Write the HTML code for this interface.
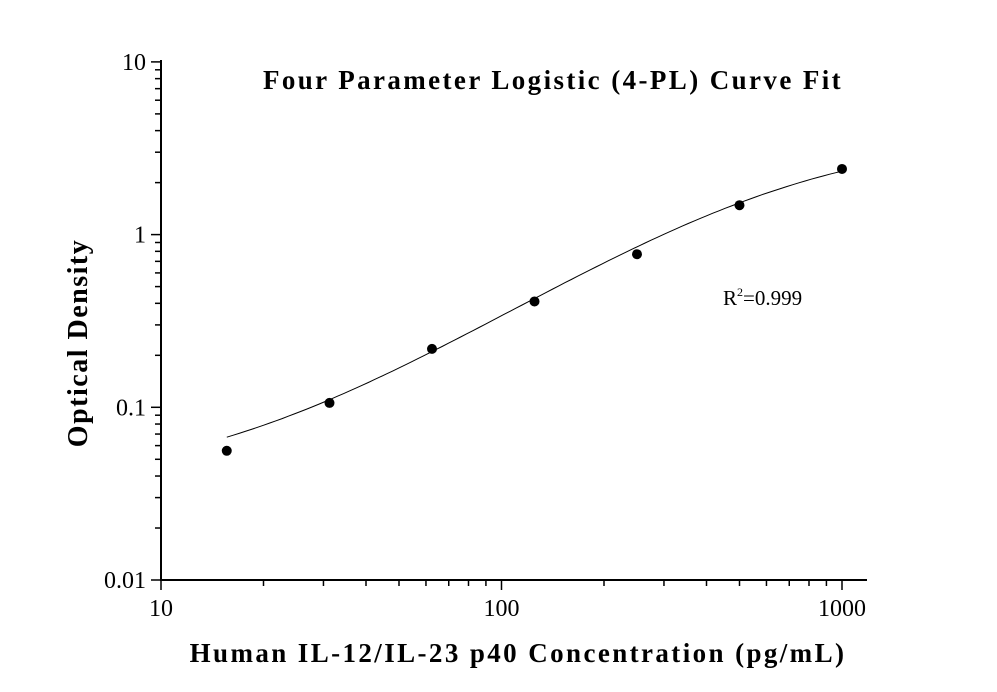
<!DOCTYPE html>
<html><head><meta charset="utf-8"><style>
body{margin:0;background:#fff}
svg{display:block;font-family:"Liberation Serif",serif}
</style></head><body>
<svg width="997" height="692" viewBox="0 0 997 692">
<g id="axes"></g>
<g id="marks"></g>
<text x="553" y="89" text-anchor="middle" font-size="27" font-weight="bold" letter-spacing="2.4">Four Parameter Logistic (4-PL) Curve Fit</text>
<text x="723" y="305" font-size="21">R<tspan dy="-9" font-size="12">2</tspan><tspan dy="9">=0.999</tspan></text>
<text transform="translate(87,343) rotate(-90)" text-anchor="middle" font-size="28" font-weight="bold" letter-spacing="1.5">Optical Density</text>
<text x="518" y="662" text-anchor="middle" font-size="27" font-weight="bold" letter-spacing="2.4">Human IL-12/IL-23 p40 Concentration (pg/mL)</text>
<script>
const concentrations=[15.6,31.25,62.5,125,250,500,1000];
const odValues=[0.056,0.106,0.218,0.41,0.77,1.48,2.4];
const fitParams=[0.035,3.8,700,1.25]; // A, D, C, B
const xTicks=[10,100,1000];
const xTickLabels=["10","100","1000"];
const yTicks=[0.01,0.1,1,10];
const yTickLabels=["0.01","0.1","1","10"];
const NS="http://www.w3.org/2000/svg";
const X0=161,XD=340.5,Y0=580,YD=172.7;
function xs(v){return X0+(Math.log10(v)-1)*XD;}
function ys(v){return Y0-(Math.log10(v)+2)*YD;}
function mk(t,a,p){const e=document.createElementNS(NS,t);for(const k in a)e.setAttribute(k,a[k]);p.appendChild(e);return e;}
const ax=document.getElementById('axes'),mg=document.getElementById('marks');
let l=mk('line',{x1:X0,y1:Y0,x2:867,y2:Y0,stroke:'#000','stroke-width':2},ax);


l=mk('line',{x1:X0,y1:Y0+1,x2:X0,y2:60,stroke:'#000','stroke-width':2},ax);


for(let d=1;d<=3;d++){for(let m=1;m<=9;m++){const v=Math.pow(10,d)*m;if(v>1200)continue;const x=xs(v);
const t=mk('line',{x1:x,y1:Y0,x2:x,y2:Y0+(m==1?10:6),stroke:'#000','stroke-width':1.5},ax);

}}
for(let d=-2;d<=1;d++){for(let m=1;m<=9;m++){const v=Math.pow(10,d)*m;if(v>10)continue;const y=ys(v);
const t=mk('line',{x1:X0,y1:y,x2:X0-(m==1?10:6),y2:y,stroke:'#000','stroke-width':1.5},ax);

}}
xTicks.forEach((v,i)=>{const t=mk('text',{x:xs(v),y:616,'text-anchor':'middle','font-size':24},ax);t.textContent=xTickLabels[i];

});
yTicks.forEach((v,i)=>{const t=mk('text',{x:146,y:ys(v)+8,'text-anchor':'end','font-size':24},ax);t.textContent=yTickLabels[i];

});
const [A,D,C,B]=fitParams;
function fit(x){return D+(A-D)/(1+Math.pow(x/C,B));}
let pts=[];const lo=Math.log10(concentrations[0]),hi=Math.log10(concentrations[concentrations.length-1]);
for(let i=0;i<=100;i++){const x=Math.pow(10,lo+(hi-lo)*i/100);pts.push(xs(x).toFixed(1)+','+ys(fit(x)).toFixed(1));}
const pl=mk('polyline',{points:pts.join(' '),fill:'none',stroke:'#000','stroke-width':1},mg);


concentrations.forEach((c,i)=>{const p=mk('circle',{cx:xs(c),cy:ys(odValues[i]),r:5,fill:'#000'},mg);

});
</script>
</svg>
</body></html>
